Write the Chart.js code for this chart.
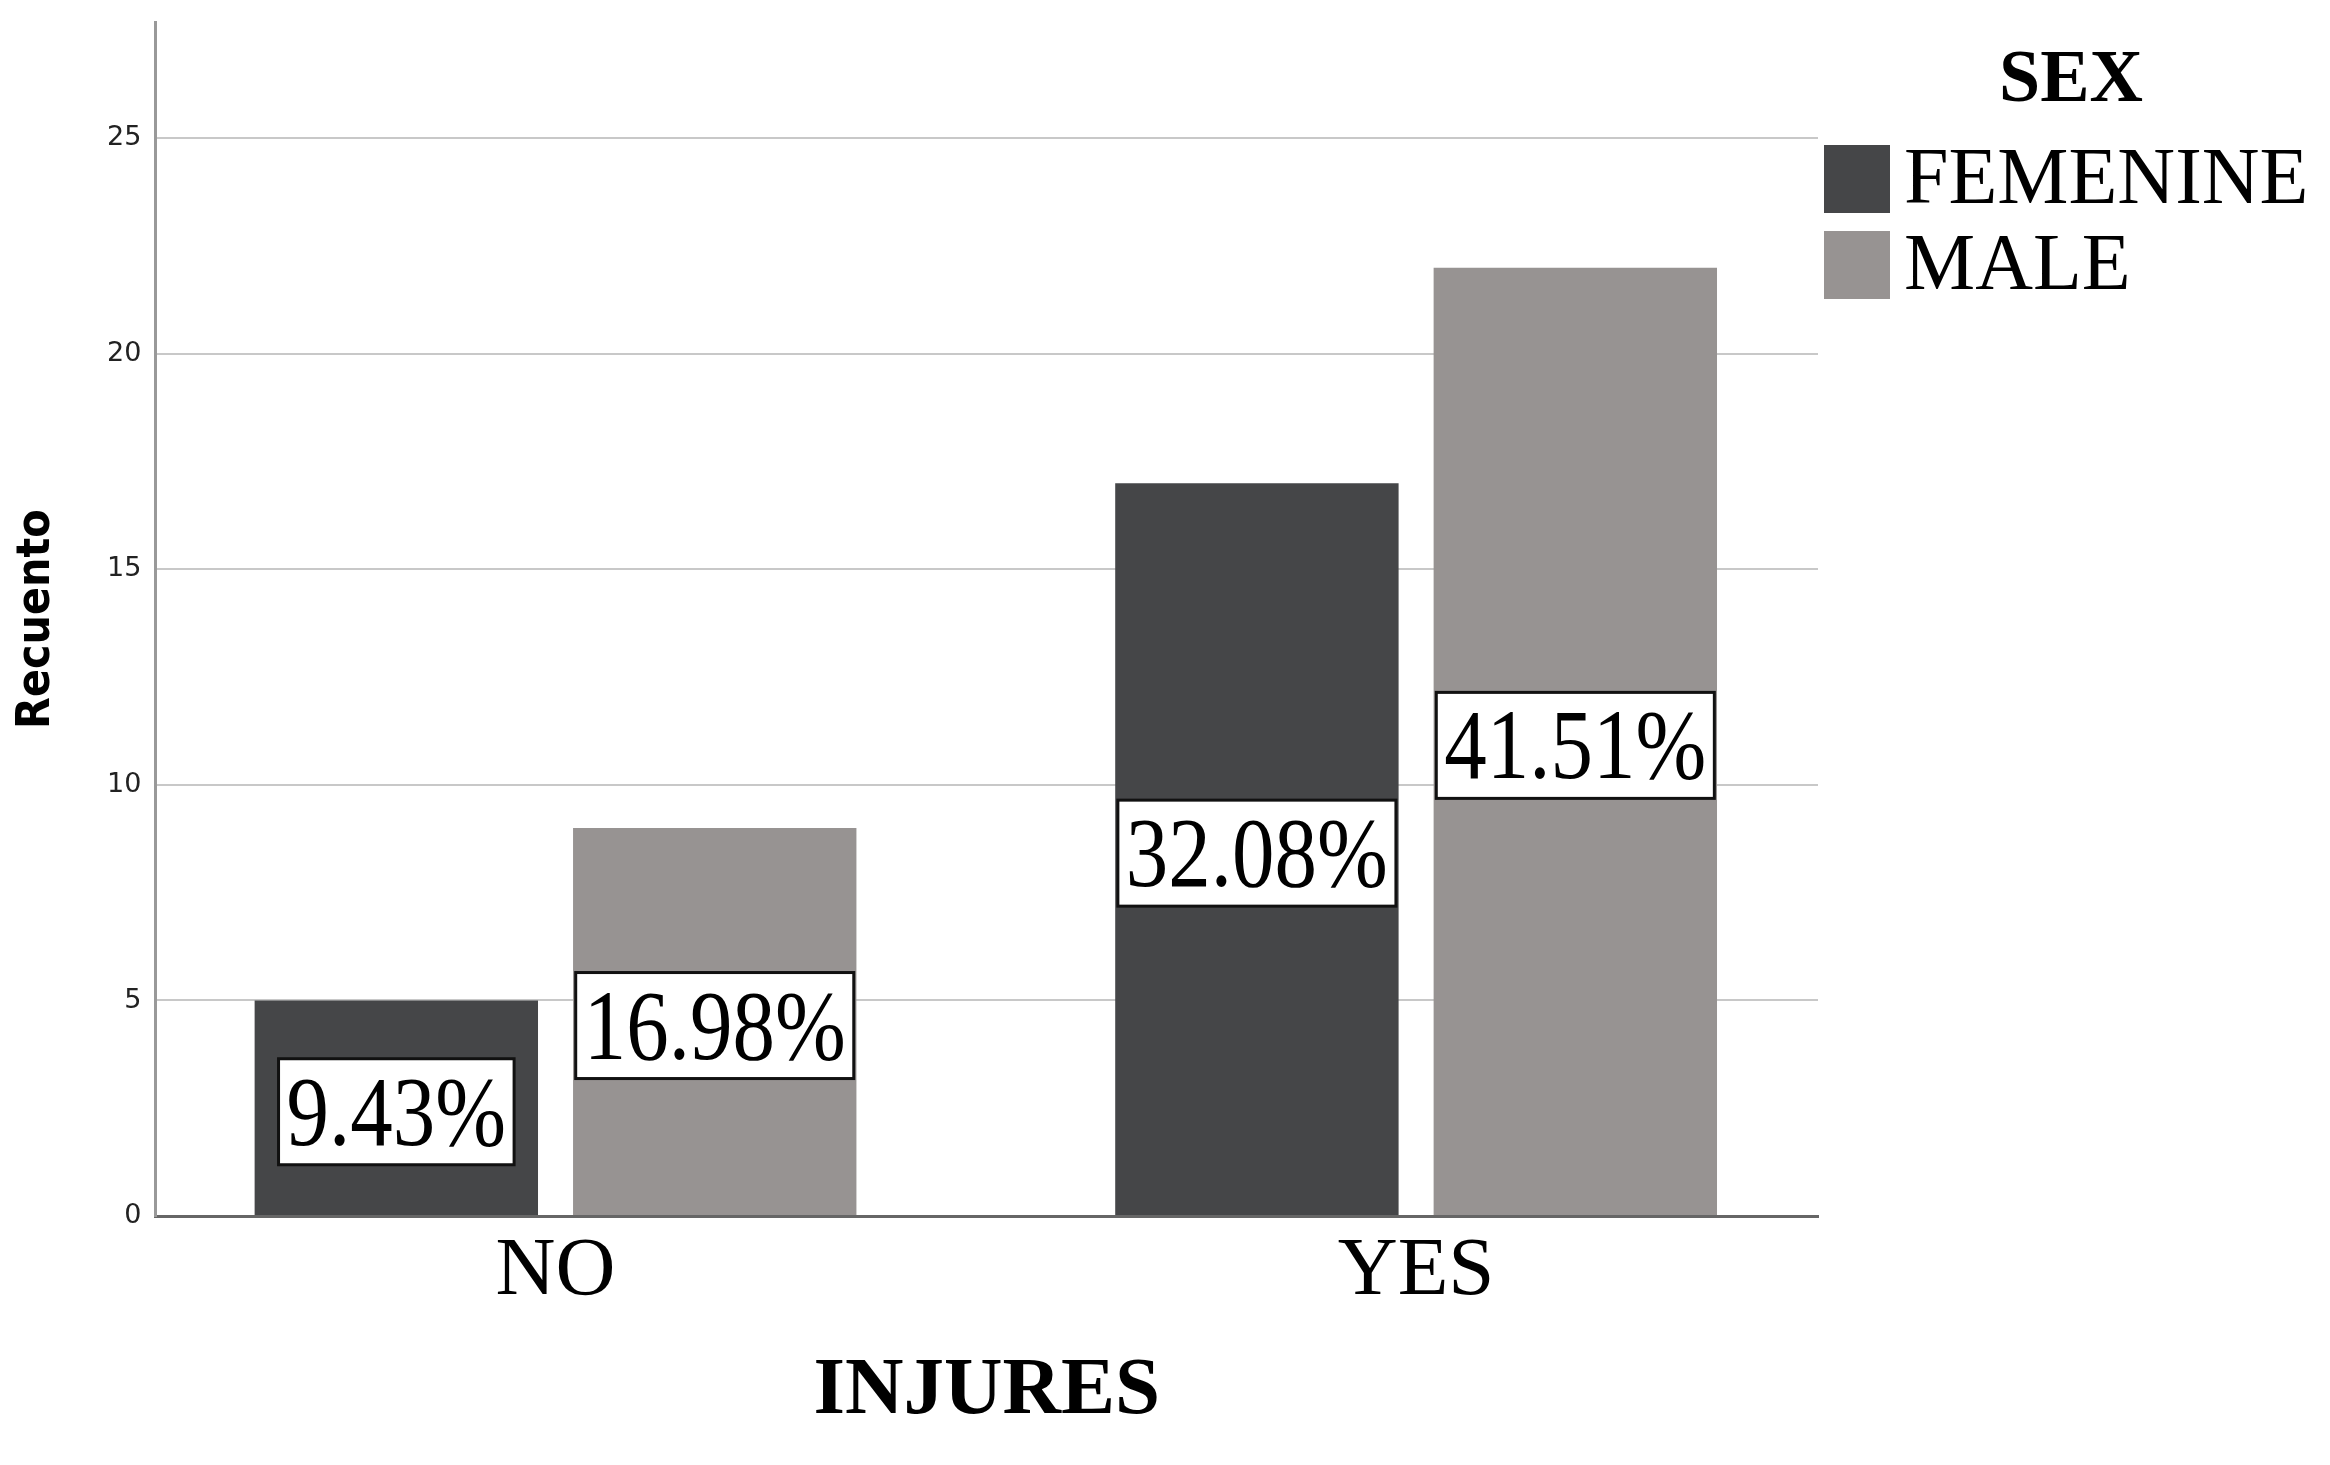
<!DOCTYPE html>
<html>
<head>
<meta charset="utf-8">
<script src="https://cdn.jsdelivr.net/npm/chart.js@4.4.1/dist/chart.umd.min.js"></script>
<style>
  html, body { margin: 0; padding: 0; background: #fff; }
  #wrap { width: 2330px; height: 1465px; position: relative; }
</style>
</head>
<body>
<div id="wrap"><canvas id="myChart"></canvas></div>
<script>
const categories = ['NO', 'YES'];
const femenine = [5, 17];
const male = [9, 22];
const femeninePct = ['9.43%', '32.08%'];
const malePct = ['16.98%', '41.51%'];
const yMax = 27.7;
const yStep = 5;

const serif = "'Liberation Serif', 'DejaVu Serif', serif";

// white boxes with the percentage in the middle of each bar
const pctLabels = {
  id: 'pctLabels',
  afterDatasetsDraw(chart) {
    const ctx = chart.ctx;
    chart.data.datasets.forEach((ds, i) => {
      const meta = chart.getDatasetMeta(i);
      meta.data.forEach((bar, j) => {
        const text = ds.pct[j];
        const cy = (bar.y + bar.base) / 2 + 4;
        ctx.save();
        ctx.font = '100px ' + serif;
        const sx = 0.85;
        const w = ctx.measureText(text).width * sx + 16;
        const h = 106;
        ctx.fillStyle = '#fff';
        ctx.fillRect(bar.x - w / 2, cy - h / 2, w, h);
        ctx.lineWidth = 3;
        ctx.strokeStyle = '#111';
        ctx.strokeRect(bar.x - w / 2, cy - h / 2, w, h);
        ctx.translate(bar.x, cy + 33);
        ctx.scale(sx, 1);
        ctx.fillStyle = '#000';
        ctx.textAlign = 'center';
        ctx.textBaseline = 'alphabetic';
        ctx.fillText(text, 0, 0);
        ctx.restore();
      });
    });
  }
};

// legend on the right, drawn by hand
const sexLegend = {
  id: 'sexLegend',
  afterDraw(chart) {
    const ctx = chart.ctx;
    const x0 = chart.chartArea.right + 6;
    ctx.save();
    ctx.fillStyle = '#000';
    ctx.textAlign = 'center';
    ctx.textBaseline = 'alphabetic';
    ctx.font = 'bold 74px ' + serif;
    ctx.fillText('SEX', x0 + 247, 101);
    ctx.textAlign = 'left';
    ctx.font = '80px ' + serif;
    chart.data.datasets.forEach((ds, i) => {
      const top = 145 + i * 86;
      ctx.fillStyle = ds.backgroundColor;
      ctx.fillRect(x0, top, 66, 68);
      ctx.fillStyle = '#000';
      ctx.fillText(ds.label, x0 + 80, top + 58);
    });
    ctx.restore();
  }
};

const ctx = document.getElementById('myChart');

new Chart(ctx, {
  type: 'bar',
  data: {
    datasets: [{
      label: 'FEMENINE',
      data: femenine.map((v, i) => ({ x: i, y: v })),
      pct: femeninePct,
      backgroundColor: '#454648',
      borderWidth: 0
    }, {
      label: 'MALE',
      data: male.map((v, i) => ({ x: i, y: v })),
      pct: malePct,
      backgroundColor: '#979392',
      borderWidth: 0
    }]
  },
  options: {
    responsive: true,
    maintainAspectRatio: false,
    animation: false,
    categoryPercentage: 0.74,
    barPercentage: 0.89,
    layout: { padding: { left: 0, right: 512, top: 22, bottom: 20 } },
    plugins: {
      legend: { display: false },
      tooltip: { enabled: false }
    },
    scales: {
      x: {
        type: 'linear',
        offset: false,
        min: -0.465,
        max: 1.467,
        grid: { display: false },
        border: { display: true, color: '#666', width: 3 },
        ticks: {
          stepSize: 1,
          includeBounds: false,
          padding: 7,
          color: '#000',
          font: { family: serif, size: 83, lineHeight: 1 },
          callback: (v) => categories[v]
        },
        title: {
          display: true,
          text: 'INJURES',
          color: '#000',
          font: { family: serif, size: 81, weight: 'bold', lineHeight: 1 },
          padding: { top: 31, bottom: 12 }
        }
      },
      y: {
        min: 0,
        max: yMax,
        grid: { color: '#c8c8c8', lineWidth: 2, drawTicks: false },
        border: { display: true, color: '#999', width: 3 },
        ticks: {
          stepSize: yStep,
          includeBounds: false,
          padding: 14,
          color: '#222',
          font: { family: "'DejaVu Sans', sans-serif", size: 27, lineHeight: 0.6 }
        },
        title: {
          display: true,
          text: 'Recuento',
          color: '#000',
          font: { family: "'DejaVu Sans Condensed', sans-serif", size: 46, weight: 'bold', lineHeight: 1 },
          padding: { top: 14, bottom: 33 }
        }
      }
    }
  },
  plugins: [pctLabels, sexLegend]
});
</script>
</body>
</html>
